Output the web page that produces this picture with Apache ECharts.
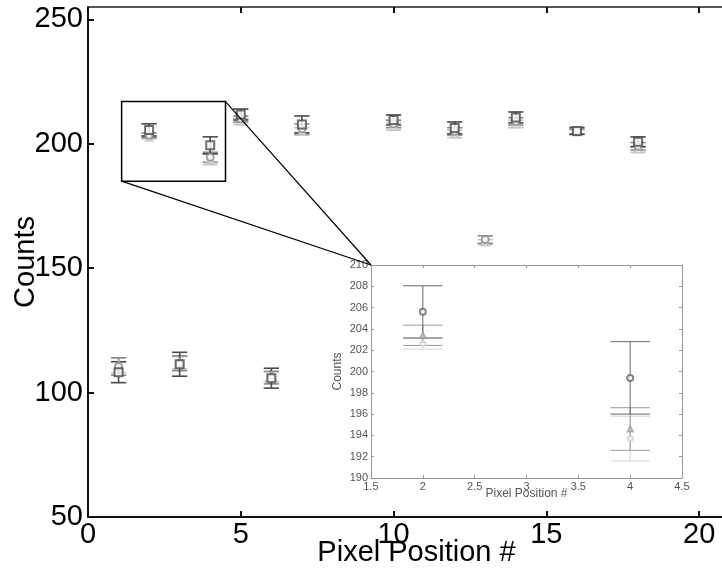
<!DOCTYPE html>
<html>
<head>
<meta charset="utf-8">
<script src="https://cdn.jsdelivr.net/npm/echarts@6/dist/echarts.min.js"></script>
<style>html,body{margin:0;padding:0;background:#fff}#main{width:722px;height:572px}</style>
</head>
<body>
<div id="main"></div>
<script>
// 像素位置与三组测量值（均值 ± 误差）
var positions = [1, 2, 3, 4, 5, 6, 7, 10, 12, 13, 14, 16, 18];
var darkVals  = [108.2, 205.6, 111.4, 199.4, 211.8, 105.8, 207.8, 209.6, 206.4, null, 210.6, 205.2, 200.8];
var darkErr   = [4.2, 2.45, 4.8, 3.4, 2.2, 4.0, 3.4, 2.0, 2.4, null, 2.2, 1.4, 2.0];
var midVals   = [110.5, 203.4, 111.8, 194.6, 210.0, 106.0, 206.0, 208.0, 205.0, 161.5, 209.0, 205.0, 199.0];
var midErr    = [3.5, 0.95, 3.0, 2.0, 1.2, 2.5, 2.0, 1.5, 1.5, 1.5, 1.5, 1.0, 1.5];
var lightVals = [111.0, 202.6, 112.0, 193.7, 209.0, 106.5, 205.0, 207.0, 204.0, 160.5, 208.0, 204.8, 197.8];
var lightErr  = [3.0, 0.5, 2.5, 2.1, 1.2, 2.0, 1.5, 1.5, 1.5, 1.0, 1.5, 0.8, 1.2];

// 放大框 (主图坐标) 与 小图范围
var zoomBox = [[1.1, 185], [4.5, 217]];
var insetX = [1.5, 4.5];
var insetY = [190, 210];

var FONT = 'Liberation Sans';
var myChart = echarts.init(document.getElementById('main'));

function pts(vals, inset) {
    var d = [];
    for (var i = 0; i < positions.length; i++) {
        if (vals[i] == null) continue;
        if (inset && (positions[i] < insetX[0] || positions[i] > insetX[1])) continue;
        d.push([positions[i], vals[i]]);
    }
    return d;
}
function bars(vals, errs, inset) {
    var d = [];
    for (var i = 0; i < positions.length; i++) {
        if (vals[i] == null) continue;
        if (inset && (positions[i] < insetX[0] || positions[i] > insetX[1])) continue;
        d.push([positions[i], vals[i] - errs[i], vals[i] + errs[i]]);
    }
    return d;
}
function errSeries(vals, errs, color, inset, cap) {
    return {
        type: 'custom',
        xAxisIndex: inset ? 2 : 0,
        yAxisIndex: inset ? 1 : 0,
        z: 3,
        renderItem: function (params, api) {
            var x = api.value(0);
            var lo = api.coord([x, api.value(1)]);
            var hi = api.coord([x, api.value(2)]);
            var l = api.coord([x - cap, api.value(1)])[0];
            var r = api.coord([x + cap, api.value(1)])[0];
            var st = {stroke: color, lineWidth: inset ? 1 : 1.6};
            return {
                type: 'group',
                children: [
                    {type: 'line', shape: {x1: lo[0], y1: lo[1], x2: hi[0], y2: hi[1]}, style: st},
                    {type: 'line', shape: {x1: l, y1: lo[1], x2: r, y2: lo[1]}, style: st},
                    {type: 'line', shape: {x1: l, y1: hi[1], x2: r, y2: hi[1]}, style: st}
                ]
            };
        },
        data: bars(vals, errs, inset)
    };
}
function markSeries(vals, color, symbol, size, inset) {
    return {
        type: 'scatter',
        xAxisIndex: inset ? 2 : 0,
        yAxisIndex: inset ? 1 : 0,
        symbol: symbol,
        symbolSize: size,
        z: 4,
        itemStyle: {color: color, borderColor: color, borderWidth: inset ? 1 : 1.4},
        data: pts(vals, inset)
    };
}

var cDark = '#4a4a4a', cMid = '#8a8a8a', cLight = '#c4c4c4';

var option = {
    animation: false,
    grid: [
        {left: 88, top: 7, right: -23, bottom: 55, outerBoundsMode: 'none'},
        {left: 371, top: 265, width: 311, height: 213, show: true, backgroundColor: '#fff', borderWidth: 0, outerBoundsMode: 'none'}
    ],
    xAxis: [
        {gridIndex: 0, type: 'value', min: 0, max: 21.5, interval: 5, position: 'bottom',
         name: 'Pixel Position #', nameLocation: 'middle', nameGap: 21, nameMoveOverlap: false,
         nameTextStyle: {fontFamily: FONT, fontSize: 29, color: '#000'},
         axisLine: {lineStyle: {color: '#111', width: 2}},
         axisTick: {inside: true, length: 6, lineStyle: {color: '#111', width: 2}},
         axisLabel: {fontFamily: FONT, fontSize: 29, color: '#000', margin: 3, showMaxLabel: false},
         splitLine: {show: false}},
        {gridIndex: 0, type: 'value', min: 0, max: 21.5, interval: 5, position: 'top',
         axisLine: {lineStyle: {color: '#555', width: 2}},
         axisTick: {inside: true, length: 6, lineStyle: {color: '#111', width: 2}},
         axisLabel: {show: false}, splitLine: {show: false}},
        {gridIndex: 1, type: 'value', min: insetX[0], max: insetX[1], interval: 0.5, position: 'bottom',
         name: 'Pixel Position #', nameLocation: 'middle', nameGap: 10, nameMoveOverlap: false,
         nameTextStyle: {fontFamily: FONT, fontSize: 12, color: '#555'},
         axisLine: {lineStyle: {color: '#999', width: 1}},
         axisTick: {inside: true, length: 3, lineStyle: {color: '#999'}},
         axisLabel: {fontFamily: FONT, fontSize: 11, color: '#555', margin: 3},
         splitLine: {show: false}},
        {gridIndex: 1, type: 'value', min: insetX[0], max: insetX[1], interval: 0.5, position: 'top',
         axisLine: {lineStyle: {color: '#999', width: 1}},
         axisTick: {inside: true, length: 3, lineStyle: {color: '#999'}},
         axisLabel: {show: false}, splitLine: {show: false}}
    ],
    yAxis: [
        {gridIndex: 0, type: 'value', min: 50, max: 255, interval: 50,
         name: 'Counts', nameLocation: 'middle', nameGap: 48, nameMoveOverlap: false,
         nameTextStyle: {fontFamily: FONT, fontSize: 29, color: '#000'},
         axisLine: {lineStyle: {color: '#111', width: 2}},
         axisTick: {inside: true, length: 6, lineStyle: {color: '#111', width: 2}},
         axisLabel: {fontFamily: FONT, fontSize: 29, color: '#000', margin: 5, showMaxLabel: false},
         splitLine: {show: false}},
        {gridIndex: 1, type: 'value', min: insetY[0], max: insetY[1], interval: 2, position: 'left',
         name: 'Counts', nameLocation: 'middle', nameGap: 27, nameMoveOverlap: false,
         nameTextStyle: {fontFamily: FONT, fontSize: 12, color: '#555'},
         axisLine: {lineStyle: {color: '#999', width: 1}},
         axisTick: {inside: true, length: 3, lineStyle: {color: '#999'}},
         axisLabel: {fontFamily: FONT, fontSize: 11, color: '#555', margin: 3},
         splitLine: {show: false}},
        {gridIndex: 1, type: 'value', min: insetY[0], max: insetY[1], interval: 2, position: 'right',
         axisLine: {lineStyle: {color: '#999', width: 1}},
         axisTick: {inside: true, length: 3, lineStyle: {color: '#999'}},
         axisLabel: {show: false}, splitLine: {show: false}}
    ],
    series: [
        errSeries(lightVals, lightErr, cLight, false, 0.25),
        markSeries(lightVals, cLight, 'emptyTriangle', 7, false),
        errSeries(midVals, midErr, cMid, false, 0.25),
        markSeries(midVals, cMid, 'emptyCircle', 7, false),
        errSeries(darkVals, darkErr, cDark, false, 0.25),
        markSeries(darkVals, cDark, 'emptyRect', 8, false),
        errSeries(lightVals, lightErr, '#d4d4d4', true, 0.19),
        markSeries(lightVals, '#cfcfcf', 'emptyCircle', 5, true),
        errSeries(midVals, midErr, '#9a9a9a', true, 0.19),
        markSeries(midVals, '#9a9a9a', 'emptyTriangle', 5, true),
        errSeries(darkVals, darkErr, '#666', true, 0.19),
        markSeries(darkVals, '#666', 'emptyCircle', 6, true)
    ]
};
myChart.setOption(option);

// 放大框和连接线
var corner = myChart.convertToPixel({xAxisIndex: 2, yAxisIndex: 1}, [insetX[0], insetY[1]]);
var p0 = myChart.convertToPixel({xAxisIndex: 0, yAxisIndex: 0}, [zoomBox[0][0], zoomBox[1][1]]);
var p1 = myChart.convertToPixel({xAxisIndex: 0, yAxisIndex: 0}, [zoomBox[1][0], zoomBox[0][1]]);
myChart.setOption({
    graphic: [
        {type: 'rect', z: 10, shape: {x: p0[0], y: p0[1], width: p1[0] - p0[0], height: p1[1] - p0[1]},
         style: {fill: 'none', stroke: '#000', lineWidth: 1.5}},
        {type: 'line', z: 10, shape: {x1: p1[0], y1: p0[1], x2: corner[0], y2: corner[1]},
         style: {stroke: '#000', lineWidth: 1.2}},
        {type: 'line', z: 10, shape: {x1: p0[0], y1: p1[1], x2: corner[0], y2: corner[1]},
         style: {stroke: '#000', lineWidth: 1.2}}
    ]
});
</script>
</body>
</html>
